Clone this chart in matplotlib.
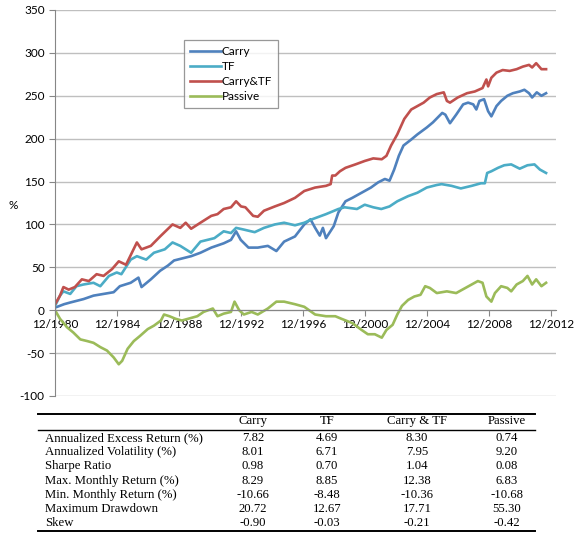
import matplotlib.pyplot as plt
from matplotlib.lines import Line2D

plt.rcParams["axes.unicode_minus"] = False

# %% data (decimal years, cumulative %)
carry_t = [1980.92, 1981.5, 1981.9, 1982.76, 1983.4, 1984.05, 1984.7, 1985.1, 1985.8, 1986.3,
           1986.5, 1987.1, 1987.7, 1988.2, 1988.6, 1989.7, 1990.3, 1991.0, 1991.8, 1992.27,
           1992.6, 1992.9, 1993.4, 1994.0, 1994.65, 1995.2, 1995.7, 1996.4, 1997.0, 1997.4,
           1997.7, 1998.0, 1998.2, 1998.4, 1998.9, 1999.2, 1999.66, 2000.1, 2000.5, 2000.9,
           2001.3, 2001.76, 2002.2, 2002.5, 2002.8, 2003.1, 2003.4, 2003.9, 2004.3, 2004.9,
           2005.3, 2005.9, 2006.1, 2006.4, 2006.8, 2007.25, 2007.57, 2007.9, 2008.1, 2008.3,
           2008.6, 2008.86, 2009.07, 2009.4, 2009.7, 2010.1, 2010.46, 2010.9, 2011.2, 2011.5,
           2011.7, 2012.0, 2012.3, 2012.6]
carry_v = [3, 7, 9, 13, 17, 19, 21, 28, 32, 38,
           27, 36, 46, 52, 58, 63, 67, 73, 78, 82,
           92, 82, 73, 73, 75, 69, 80, 86, 100, 106,
           96, 87, 96, 84, 98, 114, 127, 131, 135, 139,
           143, 149, 153, 151, 164, 180, 192, 199, 205, 213,
           219, 230, 228, 218, 228, 240, 242, 240, 234, 244,
           246, 232, 226, 238, 244, 250, 253, 255, 257, 253,
           248, 254, 250, 253]

tf_t = [1980.92, 1981.24, 1981.46, 1981.9, 1982.3, 1982.76, 1983.4, 1983.84, 1984.4, 1984.9,
        1985.2, 1985.8, 1986.2, 1986.8, 1987.3, 1988.0, 1988.5, 1989.0, 1989.7, 1990.3,
        1991.2, 1991.8, 1992.27, 1992.6, 1993.1, 1993.8, 1994.4, 1995.1, 1995.7, 1996.4,
        1997.0, 1997.5, 1998.4, 1999.2, 1999.6, 2000.0, 2000.4, 2000.9, 2001.45, 2001.97,
        2002.5, 2003.0, 2003.7, 2004.3, 2004.9, 2005.55, 2005.86, 2006.5, 2007.1, 2007.8,
        2008.4, 2008.65, 2008.8, 2009.07, 2009.5, 2009.9, 2010.35, 2010.9, 2011.4, 2011.85,
        2012.2, 2012.6]
tf_v = [5, 17, 22, 19, 28, 30, 32, 28, 40, 44,
        42, 59, 63, 59, 67, 71, 79, 75, 67, 80,
        84, 92, 90, 96, 94, 91, 96, 100, 102, 99,
        102, 106, 112, 118, 120, 119, 118, 123, 120, 118,
        121, 127, 133, 137, 143, 146, 147, 145, 142, 145,
        148, 148, 160, 162, 166, 169, 170, 165, 169, 170,
        164, 160]

combo_t = [1980.92, 1981.24, 1981.46, 1981.8, 1982.2, 1982.65, 1983.1, 1983.6, 1984.05, 1984.6,
           1985.03, 1985.5, 1986.2, 1986.5, 1987.1, 1987.7, 1988.5, 1989.0, 1989.35, 1989.7,
           1990.3, 1991.0, 1991.4, 1991.8, 1992.27, 1992.6, 1992.92, 1993.2, 1993.7, 1994.0,
           1994.4, 1995.1, 1995.7, 1996.4, 1997.0, 1997.7, 1998.4, 1998.7, 1998.8, 1999.0,
           1999.3, 1999.66, 2000.3, 2000.9, 2001.45, 2002.0, 2002.3, 2002.6, 2003.0, 2003.45,
           2003.9, 2004.3, 2004.7, 2005.1, 2005.55, 2006.0, 2006.2, 2006.4, 2006.9, 2007.5,
           2008.0, 2008.5, 2008.75, 2008.86, 2009.07, 2009.4, 2009.8, 2010.25, 2010.7, 2011.1,
           2011.5, 2011.7, 2011.96, 2012.3, 2012.6]
combo_v = [7, 17, 27, 24, 27, 36, 34, 42, 40, 48,
           57, 53, 79, 71, 75, 86, 100, 96, 102, 95,
           102, 110, 112, 118, 120, 127, 121, 120, 110, 109,
           116, 121, 125, 131, 139, 143, 145, 147, 157, 157,
           162, 166, 170, 174, 177, 176, 180, 192, 205, 223,
           234, 238, 242, 248, 252, 254, 244, 242, 248, 253,
           255, 259, 269, 261, 271, 277, 280, 279, 281, 284,
           286, 283, 288, 281, 281]

passive_t = [1980.92, 1981.24, 1981.7, 1982.1, 1982.55, 1983.0, 1983.4, 1983.84, 1984.27, 1984.7,
             1985.03, 1985.25, 1985.6, 1986.0, 1986.4, 1986.9, 1987.3, 1987.75, 1987.95, 1988.3,
             1988.7, 1989.1, 1989.7, 1990.1, 1990.5, 1991.1, 1991.4, 1991.8, 1992.27, 1992.5,
             1992.8, 1993.1, 1993.6, 1994.0, 1994.65, 1995.2, 1995.7, 1996.4, 1997.0, 1997.7,
             1998.4, 1999.0, 1999.4, 2000.1, 2000.7, 2001.1, 2001.55, 2002.0, 2002.3, 2002.7,
             2003.0, 2003.3, 2003.7, 2004.1, 2004.5, 2004.8, 2005.1, 2005.55, 2006.2, 2006.8,
             2007.4, 2007.8, 2008.2, 2008.5, 2008.75, 2009.07, 2009.3, 2009.7, 2010.1, 2010.35,
             2010.7, 2011.1, 2011.4, 2011.7, 2011.96, 2012.3, 2012.6]
passive_v = [0, -10, -20, -26, -34, -36, -38, -43, -47, -55,
             -63, -59, -45, -36, -30, -22, -18, -12, -5, -7,
             -10, -12, -9, -7, -2, 2, -7, -4, -2, 10,
             0, -5, -2, -5, 2, 10, 10, 7, 4, -5,
             -7, -7, -10, -15, -23, -28, -28, -32, -23, -17,
             -5, 5, 12, 16, 18, 28, 26, 20, 22, 20,
             26, 30, 34, 32, 16, 10, 20, 28, 26, 22,
             30, 34, 40, 30, 36, 28, 32]

names = ["Carry", "TF", "Carry&TF", "Passive"]
colors = ["#4F81BD", "#4BACC6", "#C0504D", "#9BBB59"]

tick_years = [1980, 1984, 1988, 1992, 1996, 2000, 2004, 2008, 2012]
y_ticks = [-100, -50, 0, 50, 100, 150, 200, 250, 300, 350]

# summary table
col_names = ["Carry", "TF", "Carry & TF", "Passive"]
row_names = ["Annualized Excess Return (%)", "Annualized Volatility (%)", "Sharpe Ratio",
             "Max. Monthly Return (%)", "Min. Monthly Return (%)", "Maximum Drawdown", "Skew"]
carry_stats = ["7.82", "8.01", "0.98", "8.29", "-10.66", "20.72", "-0.90"]
tf_stats = ["4.69", "6.71", "0.70", "8.85", "-8.48", "12.67", "-0.03"]
combo_stats = ["8.30", "7.95", "1.04", "12.38", "-10.36", "17.71", "-0.21"]
passive_stats = ["0.74", "9.20", "0.08", "6.83", "-10.68", "55.30", "-0.42"]

# %%
W, H = 574, 538
fig = plt.figure(figsize=(W / 100, H / 100), dpi=100)
ax = fig.add_axes([55 / W, 1 - 396 / H, 501 / W, 386 / H])

series = [(carry_t, carry_v), (tf_t, tf_v), (combo_t, combo_v), (passive_t, passive_v)]
for (t, v), n, c in zip(series, names, colors):
    ax.plot(t, v, color=c, lw=1.9, label=n, solid_joinstyle="round")

ax.set_xlim(1980.92, 2013.24)
ax.set_ylim(-100, 350)
ax.set_yticks(y_ticks)
ax.set_xticks([y + 0.917 for y in tick_years])
ax.set_xticklabels([f"12/{y}" for y in tick_years])
ax.grid(axis="y", color="#BFBFBF", lw=1)
ax.set_axisbelow(True)
for s in ["top", "right"]:
    ax.spines[s].set_visible(False)
ax.spines["left"].set_color("#868686")
ax.spines["bottom"].set_position(("data", 0))
ax.spines["bottom"].set_color("#868686")
ax.tick_params(axis="y", colors="#868686", length=4, labelcolor="black", labelsize=8.5)
ax.tick_params(axis="x", colors="#868686", length=4, labelcolor="black", labelsize=8.5,
               direction="out", pad=2)
for lab in ax.get_xticklabels() + ax.get_yticklabels():
    lab.set_fontfamily("Lato")

fig.text(13 / W, 1 - 205 / H, "%", fontsize=8.5, family="Lato", ha="center", va="center")

leg = ax.legend(loc="upper left", bbox_to_anchor=(184 / W, 1 - 40 / H),
                bbox_transform=fig.transFigure, frameon=True, fancybox=False,
                prop={"family": "Lato", "size": 8.5}, handlelength=2.6,
                handletextpad=0.1, labelspacing=0.35, borderpad=0.5, borderaxespad=0)
leg.get_frame().set_edgecolor("#7F7F7F")
leg.get_frame().set_linewidth(0.9)

# %% table
for yy in [414, 430, 531]:
    fig.add_artist(Line2D([38 / W, 535 / W], [1 - yy / H, 1 - yy / H], color="black",
                          lw=1 if yy == 430 else 1.4, transform=fig.transFigure))

col_x = [253, 327, 417, 507]
row_y = [438, 452, 466, 481, 495, 509, 523]
tkw = dict(family="Liberation Serif", fontsize=9.2, va="center")
for cx, cn in zip(col_x, col_names):
    fig.text(cx / W, 1 - 421 / H, cn, ha="center", **tkw)
for ry, rn in zip(row_y, row_names):
    fig.text(45 / W, 1 - ry / H, rn, ha="left", **tkw)
for cx, col in zip(col_x, [carry_stats, tf_stats, combo_stats, passive_stats]):
    for ry, val in zip(row_y, col):
        fig.text(cx / W, 1 - ry / H, val, ha="center", **tkw)

fig.savefig("out.png", dpi=100)
